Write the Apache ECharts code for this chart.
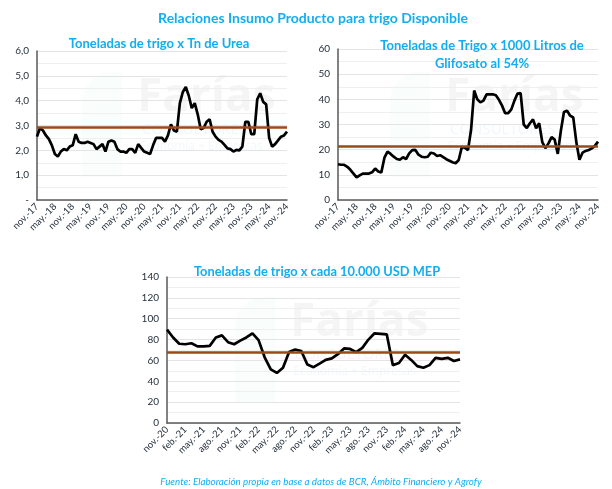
<!DOCTYPE html>
<html><head><meta charset="utf-8">
<script src="https://cdn.jsdelivr.net/npm/echarts@6/dist/echarts.min.js"></script>
<style>html,body{margin:0;padding:0;background:#fff}#c{width:612px;height:489px}</style>
</head><body><div id="c"></div>
<script>
const monthNames = ['ene','feb','mar','abr','may','jun','jul','ago','sep','oct','nov','dic'];
function monthLabels(startMonth, startYear, count) {
  const out = [];
  let m = startMonth, y = startYear;
  for (let k = 0; k < count; k++) {
    out.push(monthNames[m] + '.-' + String(y).slice(-2));
    m++; if (m > 11) { m = 0; y++; }
  }
  return out;
}
// Chart 1: Toneladas de trigo x Tn de Urea (nov-17 .. nov-24, monthly)
const urea = [2.55,2.9,2.8,2.6,2.45,2.2,1.85,1.75,1.95,2.05,2.0,2.15,2.2,2.65,2.35,2.3,2.3,2.35,2.3,2.25,
  2.05,2.15,2.25,1.95,2.35,2.4,2.35,2.05,1.95,1.95,1.9,2.05,2.05,1.9,2.25,2.1,1.95,1.9,1.85,2.2,
  2.5,2.5,2.5,2.35,2.6,3.05,2.8,2.75,3.9,4.35,4.55,4.2,3.7,3.9,3.45,2.85,2.9,3.15,3.25,2.75,
  2.55,2.42,2.35,2.22,2.08,2.05,1.95,2.02,2.0,2.15,3.15,3.15,2.65,2.65,4.05,4.3,3.95,3.85,2.5,2.15,
  2.25,2.4,2.55,2.6,2.75];
const ureaAvg = 2.93;
// Chart 2: Toneladas de Trigo x 1000 Litros de Glifosato al 54%
const glifo = [14.2,14.0,14.0,13.2,12.0,10.5,9.0,9.8,10.5,10.5,10.5,11.0,12.5,11.3,10.9,16.8,19.2,18.3,17.2,16.3,
  16.0,17.0,16.3,18.5,19.8,19.9,18.0,17.2,17.0,17.2,18.8,18.5,17.5,17.8,17.0,16.2,15.6,15.0,14.6,15.9,
  21.0,20.8,19.8,28.0,43.5,40.0,38.8,39.5,42.0,42.0,42.0,41.6,39.8,37.5,34.5,34.5,36.0,39.5,42.3,42.5,
  30.0,28.6,30.5,32.0,28.5,30.5,23.0,20.6,22.5,25.0,24.0,18.3,27.5,35.0,35.5,33.5,32.8,23.0,16.0,18.8,
  19.5,19.9,20.5,21.5,23.2];
const glifoAvg = 21.5;
// Chart 3: Toneladas de trigo x cada 10.000 USD MEP (nov-20 .. nov-24)
const mep = [89.5,82,76,75.5,76.5,73.5,73.5,74,82,84,77.5,75.5,79,82,86,79.5,63,51.5,48,53,
  68,70.5,69,56,53.5,57,60.5,62,66,71.5,71,68,72,80,86,85.5,85,55.5,57.5,65.5,
  60.5,54.5,53,55.5,62.5,61.5,62.5,59.5,61];
const mepAvg = 68;

const cats1 = monthLabels(10, 2017, urea.length);
const cats3 = monthLabels(10, 2020, mep.length);

const blue = '#12AEEF';
const brown = '#9A4A17';
const font = 'Lato, "Open Sans", sans-serif';
const labelColor = '#26303C';

function xAxis(grid, data, interval) {
  return {type:'category', gridIndex:grid, data:data, boundaryGap:false,
    axisLine:{lineStyle:{color:'#595959', width:1.5}},
    axisTick:{show:false},
    axisLabel:{interval:interval, rotate:45, fontSize:9.5, color:labelColor, fontFamily:font, margin:5},
    splitLine:{show:false}};
}
function yAxis(grid, max, interval, fmt) {
  return {type:'value', gridIndex:grid, min:0, max:max, interval:interval,
    axisLine:{show:true, lineStyle:{color:'#595959', width:1.5}},
    axisTick:{show:false},
    axisLabel:{fontSize:10, color:labelColor, fontFamily:font, margin:8, formatter:fmt},
    splitLine:{show:true, lineStyle:{color:'#E4E4E4', width:1}},
    minorTick:{show:false, splitNumber:2},
    minorSplitLine:{show:true, lineStyle:{color:'#EFEFEF', width:1}}};
}
function line(idx, data, avg) {
  return {type:'line', xAxisIndex:idx, yAxisIndex:idx, data:data, showSymbol:false, symbol:'none',
    lineStyle:{color:'#000', width:2.7}, z:3,
    markLine:{silent:true, symbol:'none', label:{show:false},
      lineStyle:{color:brown, width:2.7, type:'solid'}, data:[{yAxis:avg}], z:4}};
}
function wm(cx, cy) {
  return [
    {type:'text', left:cx-55, top:cy-25, z:0, style:{text:'Farías', fontSize:46, fontWeight:'bold', fill:'rgba(190,190,190,0.16)', fontFamily:'"Open Sans", sans-serif'}},
    {type:'text', left:cx-50, top:cy+22, z:0, style:{text:'CONSULTORES', fontSize:15, fill:'rgba(150,190,220,0.14)', fontFamily:'"Open Sans", sans-serif'}},
    {type:'text', left:cx-52, top:cy+41, z:0, style:{text:'Economía + Empresas', fontSize:12, fill:'rgba(150,190,220,0.13)', fontFamily:'"Open Sans", sans-serif'}},
    {type:'rect', left:cx-110, top:cy-28, z:0, shape:{width:40, height:105, r:[30,0,0,0]}, style:{fill:'rgba(160,220,205,0.06)'}}
  ];
}

const chart = echarts.init(document.getElementById('c'), null, {renderer:'canvas'});
chart.setOption({
  backgroundColor:'#fff',
  animation:false,
  title:[
    {text:'Relaciones Insumo Producto para trigo Disponible', left:308, top:6, textAlign:'center',
      textStyle:{color:blue, fontSize:14, fontWeight:'bold', fontFamily:font}},
    {text:'Toneladas de trigo x Tn de Urea', left:154, top:32, textAlign:'center',
      textStyle:{color:blue, fontSize:13, fontWeight:'bold', fontFamily:font}},
    {text:'Toneladas de Trigo x 1000 Litros de\nGlifosato al 54%', left:477, top:32, textAlign:'center',
      textStyle:{color:blue, fontSize:13, fontWeight:'bold', fontFamily:font, lineHeight:18}},
    {text:'Toneladas de trigo x cada 10.000 USD MEP', left:312, top:260, textAlign:'center',
      textStyle:{color:blue, fontSize:12.8, fontWeight:'bold', fontFamily:font}},
    {text:'Fuente: Elaboración propia en base a datos de BCR, Ámbito Financiero y Agrofy', left:316, top:472, textAlign:'center',
      textStyle:{color:blue, fontSize:9.8, fontStyle:'italic', fontWeight:'normal', fontFamily:font}}
  ],
  graphic: [].concat(wm(192, 100), wm(500, 100), wm(345, 325)),
  grid:[
    {left:37, top:51, width:250, height:149},
    {left:338, top:49, width:260, height:151},
    {left:167, top:277, width:293, height:146}
  ],
  xAxis:[xAxis(0, cats1, 5), xAxis(1, cats1, 5), xAxis(2, cats3, 2)],
  yAxis:[
    yAxis(0, 6, 1, v => v === 0 ? '-' : v.toFixed(1).replace('.', ',')),
    yAxis(1, 60, 10, v => String(v)),
    yAxis(2, 140, 20, v => String(v))
  ],
  series:[line(0, urea, ureaAvg), line(1, glifo, glifoAvg), line(2, mep, mepAvg)]
});
</script></body></html>
